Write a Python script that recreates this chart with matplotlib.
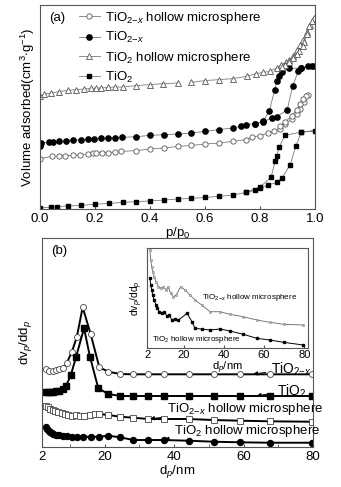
import numpy as np
import matplotlib
matplotlib.use('Agg')
import matplotlib.pyplot as plt

plt.rcParams['font.family'] = ['Liberation Sans', 'DejaVu Sans']
plt.rcParams['mathtext.fontset'] = 'custom'
plt.rcParams['mathtext.rm'] = 'Liberation Sans'
plt.rcParams['mathtext.it'] = 'Liberation Sans:italic'

# ---- (a) N2 isotherms, adsorption out and desorption back (arbitrary units)
tio2x_hollow_p = [0.0, 0.044, 0.068, 0.092, 0.119, 0.146, 0.174, 0.192, 0.204, 0.226, 0.247, 0.271, 0.295,
                  0.35, 0.4, 0.45, 0.5, 0.55, 0.6, 0.65, 0.7, 0.75, 0.77, 0.8, 0.83, 0.85, 0.872, 0.891,
                  0.915, 0.933, 0.945, 0.96, 0.976, 0.967, 0.955, 0.945, 0.933, 0.915, 0.891, 0.872]
tio2x_hollow_v = [25.2, 26.3, 26.5, 26.7, 26.8, 27.2, 27.5, 27.8, 28.0, 28.2, 28.2, 28.5, 28.8,
                  29.2, 30.0, 30.5, 31.3, 31.8, 32.5, 33.0, 33.8, 34.7, 36.0, 36.7, 38.0, 38.8, 40.0, 42.5,
                  45.0, 47.5, 50.0, 53.5, 57.2, 56.5, 55.0, 52.5, 49.7, 46.5, 43.5, 41.5]

tio2x_p = [0.0, 0.004, 0.031, 0.046, 0.07, 0.095, 0.119, 0.149, 0.174, 0.198, 0.222, 0.247, 0.271, 0.299,
           0.35, 0.4, 0.45, 0.5, 0.55, 0.6, 0.65, 0.7, 0.73, 0.75, 0.78, 0.81, 0.842, 0.86, 0.899, 0.919,
           0.939, 0.949, 0.976, 0.988, 1.0, 0.949, 0.906, 0.879, 0.87, 0.86, 0.854, 0.833, 0.81, 0.78]
tio2x_v = [31.3, 33.0, 33.3, 33.5, 33.8, 34.2, 34.3, 34.7, 35.0, 35.2, 35.3, 35.5, 35.7, 35.8,
           36.2, 36.8, 37.2, 37.5, 38.0, 38.8, 39.7, 40.5, 41.3, 42.2, 42.7, 43.5, 45.5, 46.0, 49.7, 61.7,
           68.8, 70.5, 71.3, 71.3, 71.5, 70.5, 70.3, 68.3, 66.7, 63.8, 59.7, 48.8, 43.8, 42.5]

tio2_hollow_p = [0.0, 0.016, 0.04, 0.07, 0.1, 0.13, 0.16, 0.186, 0.204, 0.222, 0.247, 0.271, 0.301, 0.35,
                 0.399, 0.447, 0.502, np.nan, 0.55, 0.599, 0.651, 0.702, 0.751, 0.787, 0.812, 0.836, 0.86,
                 0.878, 0.894, 0.906, 0.921, 0.935, 0.945, 0.957, 0.97, 0.982, 0.991, 0.998, 0.988, 0.979,
                 0.972, 0.96, 0.955, 0.943, 0.933, 0.919, 0.906, 0.891, 0.879]
tio2_hollow_v = [56.3, 57.5, 58.0, 58.7, 59.3, 59.7, 60.0, 60.3, 60.5, 60.5, 60.8, 61.0, 61.0, 61.7,
                 62.2, 62.7, 63.0, np.nan, 63.3, 64.2, 64.7, 65.2, 66.3, 67.7, 68.3, 68.8, 70.5,
                 72.2, 73.5, 74.5, 76.5, 79.5, 81.8, 84.5, 88.5, 92.0, 94.5, 95.5, 93.8, 91.3,
                 87.7, 83.3, 81.3, 79.2, 77.5, 75.3, 73.6, 72.0, 70.8]

tio2_p = [0.0, 0.04, 0.06, 0.1, 0.15, 0.2, 0.25, 0.3, 0.35, 0.4, 0.45, 0.5, 0.55, 0.6, 0.65, 0.7, 0.75,
          0.78, 0.8, 0.83, 0.86, 0.88, 0.91, 0.93, 0.95, 1.0, 0.95, 0.89, 0.87, 0.86, 0.855, 0.84, 0.8, 0.75]
tio2_v = [0.5, 1.0, 1.2, 1.5, 1.8, 2.4, 2.8, 3.3, 3.7, 4.0, 4.5, 5.0, 5.3, 5.8, 6.3, 7.0, 8.3,
          9.3, 10.5, 12.0, 13.3, 15.5, 22.2, 31.3, 38.3, 39.2, 38.5, 36.8, 31.0, 26.3, 23.8, 15.8, 11.0, 8.5]

# ---- (b) pore size distributions (offset, arbitrary units)
b_tio2x_d = [3.15, 4.1, 5.1, 6.0, 7.0, 8.0, 9.1, 10.6, 12.0, 13.7, 16.0, 18.5, 21.1, 24.5, 28.3, 32.6,
             37.0, 44.2, 51.4, 59.1, 67.7, 79.7]
b_tio2x_v = [77.7, 76.3, 76.3, 77.0, 77.7, 78.7, 83.7, 95.3, 109.7, 139.7, 113.0, 79.7, 75.3, 73.0, 72.7,
             72.7, 72.7, 72.7, 72.7, 72.7, 72.7, 72.7]

b_tio2_d = [3.15, 3.8, 4.5, 5.3, 6.0, 7.0, 8.0, 8.9, 10.3, 11.8, 14.1, 15.8, 18.2, 21.1, 24.5, 28.3, 32.6,
            37.0, 44.2, 51.4, 59.1, 67.7, 79.7]
b_tio2_v = [55.3, 54.7, 55.0, 55.3, 55.7, 56.3, 57.7, 61.0, 72.0, 90.0, 118.7, 90.3, 58.7, 53.0, 51.0,
            51.0, 51.0, 51.0, 51.0, 51.0, 51.0, 51.0, 51.0]

b_tio2x_hollow_d = [3.15, 3.73, 4.3, 5.1, 5.75, 6.7, 7.7, 8.6, 9.6, 10.6, 11.8, 13.0, 14.1, 15.8, 17.3,
                    18.5, 21.1, 24.5, 28.3, 32.6, 37.0, 44.2, 51.4, 59.1, 67.7, 79.7]
b_tio2x_hollow_v = [41.0, 39.7, 38.3, 37.0, 36.3, 35.3, 33.7, 33.0, 32.0, 31.0, 31.7, 31.0, 31.0, 32.0,
                    33.0, 33.0, 32.0, 30.3, 29.3, 28.0, 28.0, 28.0, 27.0, 26.3, 25.7, 25.3]

b_tio2_hollow_d = [3.15, 3.5, 3.9, 4.3, 4.8, 5.3, 6.0, 7.0, 8.0, 9.1, 10.6, 12.0, 13.9, 16.0, 18.5, 21.1,
                   24.5, 28.3, 32.6, 37.0, 44.2, 51.4, 59.1, 67.7, 79.7]
b_tio2_hollow_v = [19.7, 17.7, 16.3, 15.0, 14.0, 13.0, 12.3, 11.7, 11.0, 11.0, 10.3, 10.3, 10.3, 10.3,
                   10.3, 11.3, 9.7, 7.0, 7.0, 7.0, 6.3, 5.3, 4.7, 4.3, 4.3]

# inset: hollow samples only
in_upper_d = [3.3, 3.7, 4.2, 4.7, 5.4, 6.3, 7.5, 8.7, 10.0, 11.4, 12.4, 13.6, 14.9, 16.3, 18.6, 20.8, 23.2,
              25.7, 29.1, 33.2, 38.2, 43.1, 49.8, 56.4, 63.0, 69.7, 79.6]
in_upper_v = [97.7, 87.7, 81.0, 76.0, 71.0, 66.0, 61.0, 59.4, 61.0, 57.7, 61.0, 54.4, 51.0, 52.7, 61.0,
              57.7, 52.7, 47.7, 42.7, 36.0, 36.0, 33.4, 31.0, 27.7, 25.4, 23.4, 22.7]
in_lower_d = [3.3, 3.7, 4.2, 4.7, 5.4, 6.3, 7.0, 8.0, 9.2, 10.3, 11.7, 13.0, 14.2, 15.9, 17.5, 21.7, 24.2,
              25.7, 29.1, 33.2, 38.2, 43.1, 49.8, 56.4, 63.0, 69.7, 79.6]
in_lower_v = [70.0, 62.7, 57.7, 52.7, 47.7, 42.7, 39.4, 36.0, 34.4, 36.0, 32.0, 32.7, 27.7, 28.7, 27.7,
              34.4, 26.0, 19.4, 18.7, 17.7, 18.7, 16.7, 13.4, 9.4, 7.7, 5.4, 2.7]

lbl_x_hollow = r'TiO$_{2\mathrm{-}x}$ hollow microsphere'
lbl_x = r'TiO$_{2\mathrm{-}x}$'
lbl_hollow = r'TiO$_2$ hollow microsphere'
lbl_tio2 = r'TiO$_2$'

fig = plt.figure(figsize=(3.41, 4.87), dpi=100)
spine_c = '#555555'

# ---------------- panel (a)
ax = fig.add_axes([0.1173, 0.5708, 0.8065, 0.4189])
gray = '#7a7a7a'
ms_a = 3.8
ax.plot(tio2x_hollow_p, tio2x_hollow_v, '-', color=gray, lw=0.6, marker='o', ms=ms_a,
        mfc='white', mec='#555555', mew=0.6, label=lbl_x_hollow)
ax.plot(tio2x_p, tio2x_v, '-', color=gray, lw=0.6, marker='o', ms=ms_a,
        mfc='black', mec='black', label=lbl_x)
ax.plot(tio2_hollow_p, tio2_hollow_v, '-', color=gray, lw=0.6, marker='^', ms=ms_a,
        mfc='white', mec='#555555', mew=0.6, label=lbl_hollow)
ax.plot(tio2_p, tio2_v, '-', color=gray, lw=0.6, marker='s', ms=ms_a - 0.6,
        mfc='black', mec='black', label=lbl_tio2)
ax.set_xlim(0, 1.0)
ax.set_ylim(0, 102)
ax.set_xticks(np.arange(0, 1.01, 0.2))
ax.set_xticklabels(['0.0', '0.2', '0.4', '0.6', '0.8', '1.0'])
ax.set_yticks([])
ax.tick_params(axis='x', direction='in', length=2.5, labelsize=9.5, pad=3, color=spine_c)
ax.set_xlabel(r'p/p$_0$', fontsize=9.5, labelpad=0)
ax.set_ylabel(r'Volume adsorbed(cm$^3$$\cdot$g$^{-1}$)', fontsize=9.5, labelpad=2)
for s in ax.spines.values():
    s.set_color(spine_c)
    s.set_linewidth(0.8)
ax.text(0.035, 0.965, '(a)', transform=ax.transAxes, fontsize=9.5, va='top')
ax.legend(loc='upper left', bbox_to_anchor=(0.14, 0.975), frameon=False, fontsize=9.5,
          handlelength=1.6, handletextpad=0.4, labelspacing=0.32, borderaxespad=0,
          borderpad=0)

# ---------------- panel (b)
bx = fig.add_axes([0.1232, 0.0821, 0.7947, 0.4292])
ms_b = 4.3
bx.plot(b_tio2x_d, b_tio2x_v, '-', color='black', lw=1.4, marker='o', ms=ms_b,
        mfc='white', mec='#444444', mew=0.6)
bx.plot(b_tio2_d, b_tio2_v, '-', color='black', lw=1.4, marker='s', ms=ms_b - 0.6,
        mfc='black', mec='black')
bx.plot(b_tio2x_hollow_d, b_tio2x_hollow_v, '-', color='black', lw=1.4, marker='s', ms=ms_b - 0.6,
        mfc='white', mec='#444444', mew=0.6)
bx.plot(b_tio2_hollow_d, b_tio2_hollow_v, '-', color='black', lw=1.4, marker='o', ms=ms_b,
        mfc='black', mec='black')
bx.set_xlim(2, 80)
bx.set_ylim(0, 209)
bx.set_xticks([2, 20, 40, 60, 80])
bx.set_xticks([10, 30, 50, 70], minor=True)
bx.set_yticks([])
bx.tick_params(axis='x', which='both', direction='in', length=2.5, labelsize=9.5, pad=3, color=spine_c)
bx.set_xlabel(r'd$_p$/nm', fontsize=9.5, labelpad=0)
bx.set_ylabel(r'dv$_p$/dd$_p$', fontsize=9.5, labelpad=6)
for s in bx.spines.values():
    s.set_color(spine_c)
    s.set_linewidth(0.8)
bx.text(0.035, 0.965, '(b)', transform=bx.transAxes, fontsize=9.5, va='top')

arw = dict(arrowstyle='-|>', color='black', lw=0.7, mutation_scale=6)
bx.annotate(lbl_x, xy=(62.0, 72.7), xytext=(68.0, 73.5), fontsize=10, arrowprops=arw)
bx.annotate(lbl_tio2, xy=(63.0, 51.0), xytext=(69.5, 51.5), fontsize=10, arrowprops=arw)
bx.annotate(lbl_x_hollow, xy=(32.3, 28.0), xytext=(38.0, 35.5), fontsize=9.5, arrowprops=arw)
bx.annotate(lbl_hollow, xy=(36.5, 7.5), xytext=(40.0, 13), fontsize=9.5, arrowprops=arw)

# ---------------- inset
ix = fig.add_axes([0.432, 0.286, 0.472, 0.2053])
ix.plot(in_upper_d, in_upper_v, '-', color='#666666', lw=0.6, marker='s', ms=1.8,
        mfc='#bbbbbb', mec='#888888', mew=0.4)
ix.plot(in_lower_d, in_lower_v, '-', color='black', lw=0.7, marker='s', ms=1.8,
        mfc='black', mec='black')
ix.set_xlim(2, 82)
ix.set_ylim(0, 100)
ix.set_xticks([2, 20, 40, 60, 80])
ix.set_yticks([])
ix.tick_params(axis='x', direction='in', length=2, labelsize=8, pad=1.5, color=spine_c)
ix.set_xlabel(r'd$_p$/nm', fontsize=8, labelpad=0)
ix.set_ylabel(r'dv$_p$/dd$_p$', fontsize=7.5, labelpad=2)
for s in ix.spines.values():
    s.set_color(spine_c)
    s.set_linewidth(0.8)
ix.text(0.34, 0.49, lbl_x_hollow, transform=ix.transAxes, fontsize=5.8)
ix.text(0.03, 0.07, lbl_hollow, transform=ix.transAxes, fontsize=5.8)

fig.savefig('out.png', dpi=100)
